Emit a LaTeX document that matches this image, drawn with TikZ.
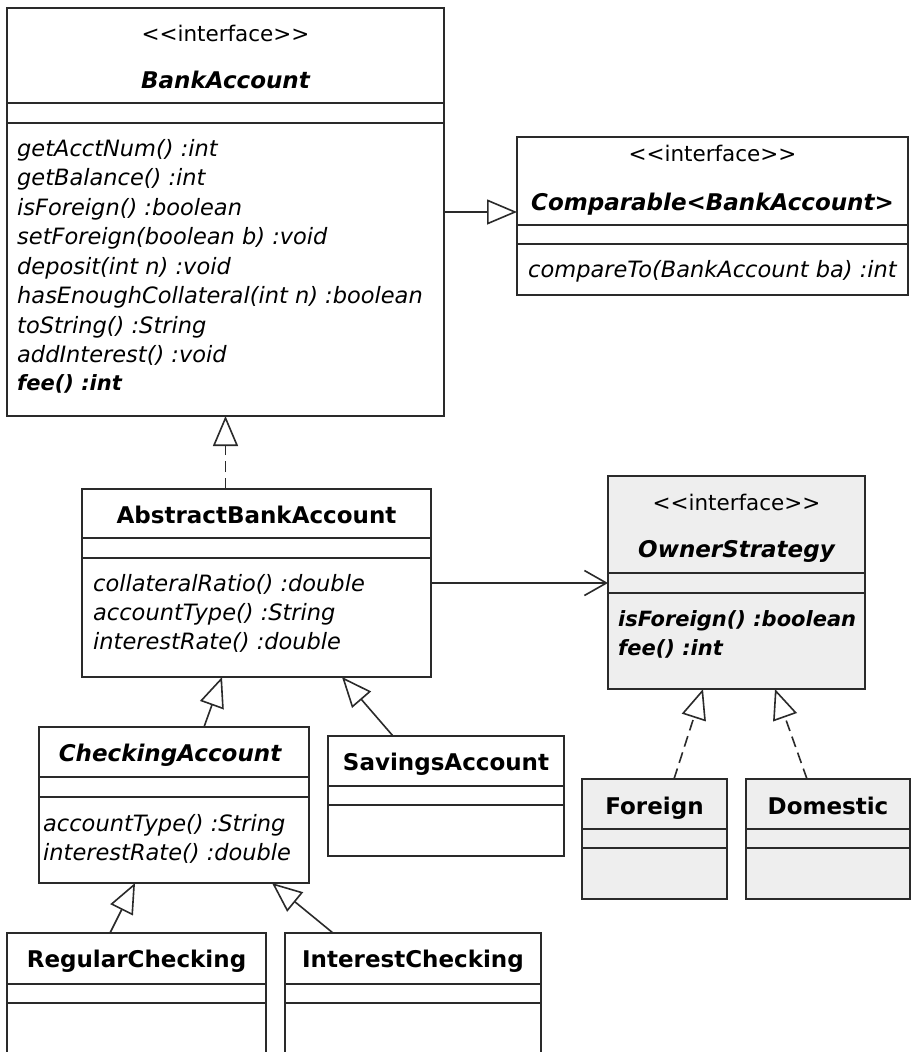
\documentclass[tikz,border=0pt]{standalone}
\usepackage{fontspec}
\setmainfont{DejaVu Sans}
\usetikzlibrary{arrows.meta}
\definecolor{linec}{HTML}{2A2A2A}
\definecolor{boxgray}{HTML}{EEEEEE}

\tikzset{
  umlbox/.style={draw=linec, line width=1.6pt, inner sep=0pt, outer sep=0pt, anchor=north west, fill=white},
  graybox/.style={umlbox, fill=boxgray},
  sepline/.style={draw=linec, line width=1.6pt},
  txt/.style={inner sep=0pt, text height=17pt, text depth=5pt},
  stereo/.style={txt, font=\fontsize{21.5}{25}\selectfont},
  cname/.style={txt, font=\bfseries\fontsize{23}{27}\selectfont},
  aname/.style={txt, font=\bfseries\itshape\fontsize{23}{27}\selectfont},
  meth/.style={txt, anchor=west, font=\itshape\fontsize{22.5}{26}\selectfont},
  ameth/.style={txt, anchor=west, font=\bfseries\itshape\fontsize{21}{25}\selectfont},
  conn/.style={draw=linec, line width=1.6pt},
  gen/.style={conn, -{Triangle[open, length=30pt, width=25pt, line width=1.6pt]}},
  real/.style={gen, dash pattern=on 11pt off 6pt},
  assoc/.style={conn, -{Straight Barb[length=22pt, width=25pt, line width=1.6pt]}}
}

% class box: style, name, x, y, width, height, first and second separator offsets
\newcommand\umlclass[8]{%
  \node[#1, minimum width=#5pt, minimum height=#6pt] (#2) at (#3,#4) {};
  \draw[sepline] ([yshift=-#7pt]#2.north west) -- ([yshift=-#7pt]#2.north east);
  \draw[sepline] ([yshift=-#8pt]#2.north west) -- ([yshift=-#8pt]#2.north east);
}
% stereotype text, kept free of the << and >> ligatures
\newcommand\ifacelabel{<{}<interface>{}>}

\begin{document}
\begin{tikzpicture}[x=1pt, y=-1pt]
\clip (0,0) rectangle (912,1052);
\fill[white] (0,0) rectangle (912,1052);

% boxes
\umlclass{umlbox}{ba}{7}{8}{437}{408}{95}{115}
\umlclass{umlbox}{cmp}{517}{137}{391}{158}{88}{107}
\umlclass{umlbox}{aba}{82}{489}{349}{188}{49}{69}
\umlclass{graybox}{os}{608}{476}{257}{213}{97}{117}
\umlclass{umlbox}{ca}{39}{727}{270}{156}{50}{70}
\umlclass{umlbox}{sa}{328}{736}{236}{120}{50}{69}
\umlclass{graybox}{fo}{582}{779}{145}{120}{50}{69}
\umlclass{graybox}{do}{746}{779}{164}{120}{50}{69}
\umlclass{umlbox}{rc}{7}{933}{259}{160}{51}{70}
\umlclass{umlbox}{ic}{285}{933}{256}{160}{51}{70}

% BankAccount
\node[stereo] (ba-st) at (225.5,35) {\ifacelabel};
\node[aname] (ba-nm) at (225.5,82) {BankAccount};
\node[meth] (ba-m1) at (17,150) {getAcctNum() :int};
\node[meth] (ba-m2) at (17,179.5) {getBalance() :int};
\node[meth] (ba-m3) at (17,209) {isForeign() :boolean};
\node[meth] (ba-m4) at (17,238.5) {setForeign(boolean b) :void};
\node[meth] (ba-m5) at (17,268) {deposit(int n) :void};
\node[meth] (ba-m6) at (17,297.5) {hasEnoughCollateral(int n) :boolean};
\node[meth] (ba-m7) at (17,327) {toString() :String};
\node[meth] (ba-m8) at (17,356.5) {addInterest() :void};
\node[ameth] (ba-m9) at (17,384) {fee() :int};

% Comparable
\node[stereo] (cmp-st) at (712.5,155) {\ifacelabel};
\node[aname] (cmp-nm) at (712.5,204) {Comparable<BankAccount>};
\node[meth] (cmp-m1) at (528,271) {compareTo(BankAccount ba) :int};

% AbstractBankAccount
\node[cname] (aba-nm) at (256.5,517) {AbstractBankAccount};
\node[meth] (aba-m1) at (93,585) {collateralRatio() :double};
\node[meth] (aba-m2) at (93,614) {accountType() :String};
\node[meth] (aba-m3) at (93,643) {interestRate() :double};

% OwnerStrategy
\node[stereo] (os-st) at (736.5,504) {\ifacelabel};
\node[aname] (os-nm) at (736.5,551) {OwnerStrategy};
\node[ameth] (os-m1) at (618,620) {isForeign() :boolean};
\node[ameth] (os-m2) at (618,649) {fee() :int};

% CheckingAccount
\node[aname] (ca-nm) at (170,755) {CheckingAccount};
\node[meth] (ca-m1) at (43,825) {accountType() :String};
\node[meth] (ca-m2) at (43,854) {interestRate() :double};

% leaf classes
\node[cname] (sa-nm) at (446,764) {SavingsAccount};
\node[cname] (fo-nm) at (654.5,808) {Foreign};
\node[cname] (do-nm) at (828,808) {Domestic};
\node[cname] (rc-nm) at (136.5,961) {RegularChecking};
\node[cname] (ic-nm) at (413,961) {InterestChecking};

% relations
\draw[gen] (ba.east) -- (ba.east -| cmp.west);
\draw[real] (ba.south |- aba.north) -- (ba.south);
\draw[assoc] (aba.east) -- (aba.east -| os.west);
\draw[gen] ([xshift=165pt]ca.north west) -- ([xshift=140pt]aba.south west);
\draw[gen] ([xshift=65pt]sa.north west) -- ([xshift=260pt]aba.south west);
\draw[real] ([xshift=92pt]fo.north west) -- ([xshift=95pt]os.south west);
\draw[real] ([xshift=61pt]do.north west) -- ([xshift=167pt]os.south west);
\draw[gen] ([xshift=103pt]rc.north west) -- ([xshift=96pt]ca.south west);
\draw[gen] ([xshift=48pt]ic.north west) -- ([xshift=233pt]ca.south west);
\end{tikzpicture}
\end{document}
